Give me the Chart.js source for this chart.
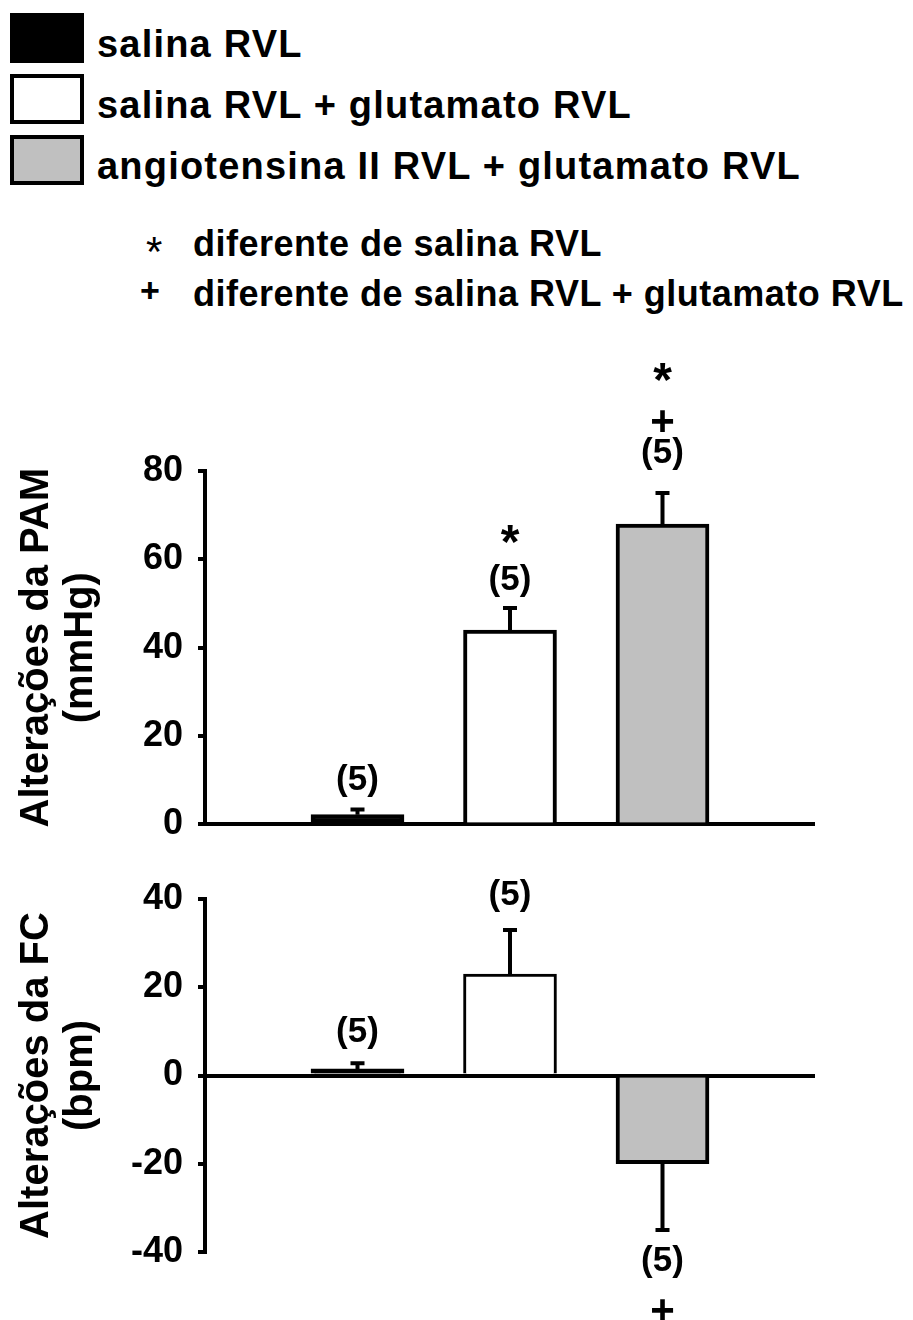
<!DOCTYPE html>
<html>
<head>
<meta charset="utf-8">
<script src="https://cdn.jsdelivr.net/npm/chart.js@4/dist/chart.umd.min.js"></script>
<style>
    body { margin: 0; background: #fff; font-family: "Liberation Sans", Arial, sans-serif; font-weight: bold; color: #000; }
    #page { position: relative; width: 913px; height: 1320px; overflow: hidden; }
    .leg-row { position: absolute; left: 10px; height: 50px; }
    .leg-box { position: absolute; left: 0; top: 0; width: 74px; height: 50px; border: 4px solid #000; box-sizing: border-box; }
    .leg-text { position: absolute; left: 87px; top: 6px; line-height: 50px; font-size: 38px; letter-spacing: 1.2px; white-space: nowrap; }
    .note { position: absolute; left: 0; height: 40px; white-space: nowrap; }
    .note-mark { position: absolute; line-height: 40px; }
    .note-text { position: absolute; left: 193px; top: 0; line-height: 40px; font-size: 36px; letter-spacing: 0.5px; }
    canvas { position: absolute; left: 0; }
    #pam { top: 330px; }
    #fc { top: 860px; }
</style>
</head>
<body>
<div id="page">
    <div id="legend"></div>
    <div id="notes"></div>
    <canvas id="pam" width="913" height="531"></canvas>
    <canvas id="fc" width="913" height="460"></canvas>
</div>
<script>
const groups = ["salina RVL", "salina RVL + glutamato RVL", "angiotensina II RVL + glutamato RVL"];
const barColors = ["#000000", "#ffffff", "#c0c0c0"];

const pamMeans = [2.2, 44, 68];
const pamSem = [1.2, 5, 7];
const fcMeans = [1.5, 23, -20];
const fcSem = [1.3, 10, 15];

const nPerGroup = [5, 5, 5];
const pamMarks = [[], ["*"], ["+", "*"]];
const fcMarks = [[], [], ["+"]];

const pamTicks = [0, 20, 40, 60, 80];
const fcTicks = [-40, -20, 0, 20, 40];

const noteMarks = ["*", "+"];
const noteTexts = ["diferente de salina RVL", "diferente de salina RVL + glutamato RVL"];

Chart.defaults.font.family = '"Liberation Sans", Arial, sans-serif';
Chart.defaults.color = "#000";

function buildLegend() {
    document.getElementById("legend").innerHTML = groups.map((g, i) =>
        `<div class="leg-row" style="top:${13 + i * 61}px">
            <div class="leg-box" style="background:${barColors[i]}"></div>
            <div class="leg-text">${g}</div>
        </div>`).join("");

    // the star of the notes is a light glyph, the plus is bold
    const markCss = [
        "left:146px;top:8px;font-size:42px;font-weight:normal",
        "left:140px;top:-4px;font-size:34px;font-weight:bold"
    ];
    document.getElementById("notes").innerHTML = noteTexts.map((t, i) =>
        `<div class="note" style="top:${224 + i * 50}px">
            <span class="note-mark" style="${markCss[i]}">${noteMarks[i]}</span>
            <span class="note-text">${t}</span>
        </div>`).join("");
}

// error bars plus the "(n)" and significance marks, placed from the bar tips
const errorBars = {
    id: "errorBars",
    afterDatasetsDraw(chart, args, opts) {
        const ctx = chart.ctx;
        const yScale = chart.scales.y;
        const meta = chart.getDatasetMeta(0);
        ctx.save();
        ctx.strokeStyle = "#000";
        ctx.fillStyle = "#000";
        ctx.lineWidth = 4;
        meta.data.forEach((bar, i) => {
            const v = opts.means[i];
            const up = v >= 0;
            const tipVal = up ? v + opts.sems[i] : v - opts.sems[i];
            const yBar = yScale.getPixelForValue(v);
            const yTip = yScale.getPixelForValue(tipVal);
            ctx.beginPath();
            ctx.moveTo(bar.x, yBar);
            ctx.lineTo(bar.x, yTip);
            ctx.moveTo(bar.x - 7, yTip);
            ctx.lineTo(bar.x + 7, yTip);
            ctx.stroke();

            const labels = ["(" + opts.n[i] + ")"].concat(opts.marks[i]);
            const offs = opts.offsets[i];
            ctx.textAlign = "center";
            ctx.textBaseline = "middle";
            labels.forEach((txt, k) => {
                let yy = up ? yTip - offs[k] : yTip + offs[k];
                if (txt === "*") {
                    ctx.font = "bold 48px 'Liberation Sans', Arial, sans-serif";
                    yy += 14;
                } else if (txt === "+") {
                    ctx.font = "bold 42px 'Liberation Sans', Arial, sans-serif";
                    yy += 2;
                } else {
                    ctx.font = "bold 35px 'Liberation Sans', Arial, sans-serif";
                }
                ctx.fillText(txt, bar.x, yy);
            });
        });
        ctx.restore();
    }
};

function makeChart(id, means, sems, marks, ticks, title, pad, offsets, borders) {
    const ctx = document.getElementById(id).getContext("2d");
    return new Chart(ctx, {
        type: "bar",
        data: {
            datasets: [{
                data: means.map((v, i) => ({ x: i + 1, y: v })),
                backgroundColor: barColors,
                borderColor: "#000",
                borderWidth: borders,
                barThickness: 93
            }]
        },
        options: {
            responsive: false,
            animation: false,
            devicePixelRatio: 1,
            layout: { padding: pad },
            plugins: {
                legend: { display: false },
                tooltip: { enabled: false },
                errorBars: { means: means, sems: sems, n: nPerGroup, marks: marks, offsets: offsets }
            },
            scales: {
                x: {
                    type: "linear",
                    display: false,
                    offset: false,
                    min: 0,
                    max: groups.length + 1,
                    ticks: { stepSize: 1 },
                    grid: { offset: false }
                },
                y: {
                    min: ticks[0],
                    max: ticks[ticks.length - 1],
                    ticks: {
                        stepSize: ticks[1] - ticks[0],
                        padding: 15,
                        color: "#000",
                        font: { size: 36, weight: "bold" }
                    },
                    grid: {
                        color: c => (c.tick && c.tick.value === 0) ? "#000" : "rgba(0,0,0,0)",
                        lineWidth: 4,
                        tickColor: "#000",
                        tickLength: 7,
                        tickWidth: 4
                    },
                    border: { display: true, color: "#000", width: 4 },
                    title: {
                        display: true,
                        text: title,
                        color: "#000",
                        font: { size: 40, weight: "bold", lineHeight: 1.1 },
                        padding: { top: 15, bottom: 0 }
                    },
                    afterFit: s => { s.width = 205; }
                }
            }
        },
        plugins: [errorBars]
    });
}

buildLegend();

makeChart("pam", pamMeans, pamSem, pamMarks, pamTicks,
    ["Alterações da PAM", "(mmHg)"],
    { top: 141, right: 98, bottom: 26, left: 0 },
    [[29], [28, 77], [40, 72, 124]],
    [4, 4, 4]);

makeChart("fc", fcMeans, fcSem, fcMarks, fcTicks,
    ["Alterações da FC", "(bpm)"],
    { top: 39, right: 98, bottom: 68, left: 0 },
    [[31], [35], [31, 80]],
    [4, 3, 4]);
</script>
</body>
</html>
